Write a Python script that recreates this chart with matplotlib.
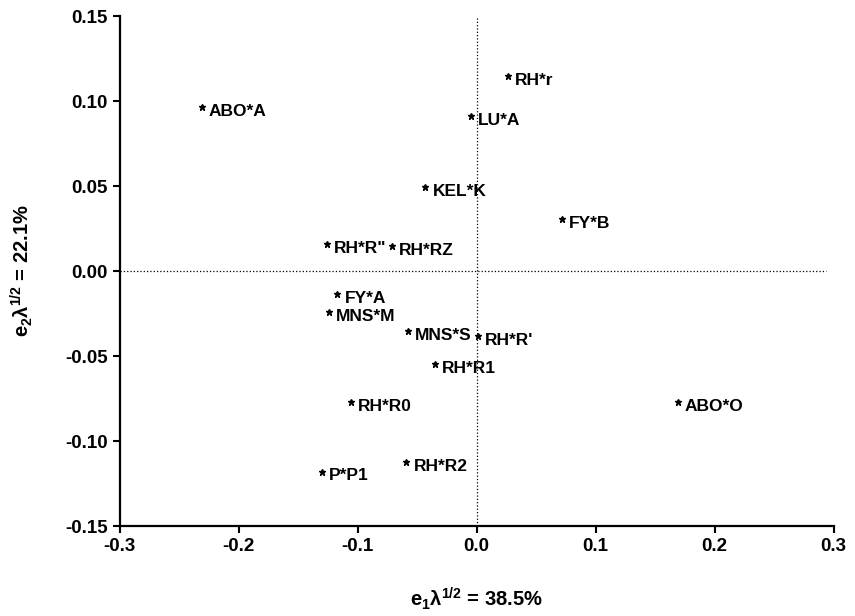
import matplotlib
matplotlib.use("Agg")
import matplotlib.pyplot as plt

# correspondence analysis coordinates
labels = ["ABO*A", "RH*r", "LU*A", "KEL*K", "FY*B", "RH*R''", "RH*RZ",
          "FY*A", "MNS*M", "MNS*S", "RH*R'", "RH*R1", "RH*R0", "ABO*O",
          "RH*R2", "P*P1"]
e1 = [-0.231, 0.026, -0.005, -0.043, 0.072, -0.126, -0.071,
      -0.117, -0.124, -0.058, 0.001, -0.035, -0.106, 0.169,
      -0.059, -0.130]
e2 = [0.0965, 0.1147, 0.0912, 0.0494, 0.0306, 0.0159, 0.0147,
      -0.0135, -0.0241, -0.0353, -0.0382, -0.0547, -0.077, -0.077,
      -0.1124, -0.118]

xticks = [-0.3, -0.2, -0.1, 0.0, 0.1, 0.2, 0.3]
yticks = [-0.15, -0.10, -0.05, 0.00, 0.05, 0.10, 0.15]

plt.rcParams['font.family'] = ['Liberation Sans', 'DejaVu Sans']
plt.rcParams['font.weight'] = 'bold'
plt.rcParams['mathtext.fontset'] = 'custom'
plt.rcParams['mathtext.bf'] = 'Liberation Sans:bold'
plt.rcParams['mathtext.rm'] = 'Liberation Sans:bold'
plt.rcParams['mathtext.it'] = 'Liberation Sans:bold'
plt.rcParams['mathtext.default'] = 'bf'

fig = plt.figure(figsize=(8.55, 6.16), dpi=100)
ax = fig.add_axes([0.140, 0.146, 0.835, 0.828])

ax.plot(e1, e2, linestyle='none', marker='*', markersize=5, color='black')
for lab, x, y in zip(labels, e1, e2):
    ax.annotate(lab.replace("''", '"'), (x, y), xytext=(5, -3), textcoords='offset points',
                ha='left', va='center', fontsize=12.5, fontweight='bold')

ax.axhline(0, color='black', linestyle=':', linewidth=0.9, xmax=0.99)
ax.axvline(0, color='black', linestyle=':', linewidth=0.9)

ax.set_xlim(-0.3, 0.3)
ax.set_ylim(-0.15, 0.15)
ax.set_xticks(xticks)
ax.set_yticks(yticks)
ax.set_xticklabels(["%.1f" % t for t in xticks])
ax.set_yticklabels(["%.2f" % t for t in yticks])
ax.tick_params(direction='out', length=5, width=1.5, labelsize=13.5)
for s in ['top', 'right']:
    ax.spines[s].set_visible(False)
for s in ['left', 'bottom']:
    ax.spines[s].set_linewidth(1.6)

ax.set_xlabel(r"e$_1$$\lambda^{1/2}$ = 38.5%", fontsize=14.5, fontweight='bold', labelpad=22)
ax.set_ylabel(r"e$_2$$\lambda^{1/2}$ = 22.1%", fontsize=14.5, fontweight='bold', labelpad=22)

fig.savefig("out.png", dpi=100)
